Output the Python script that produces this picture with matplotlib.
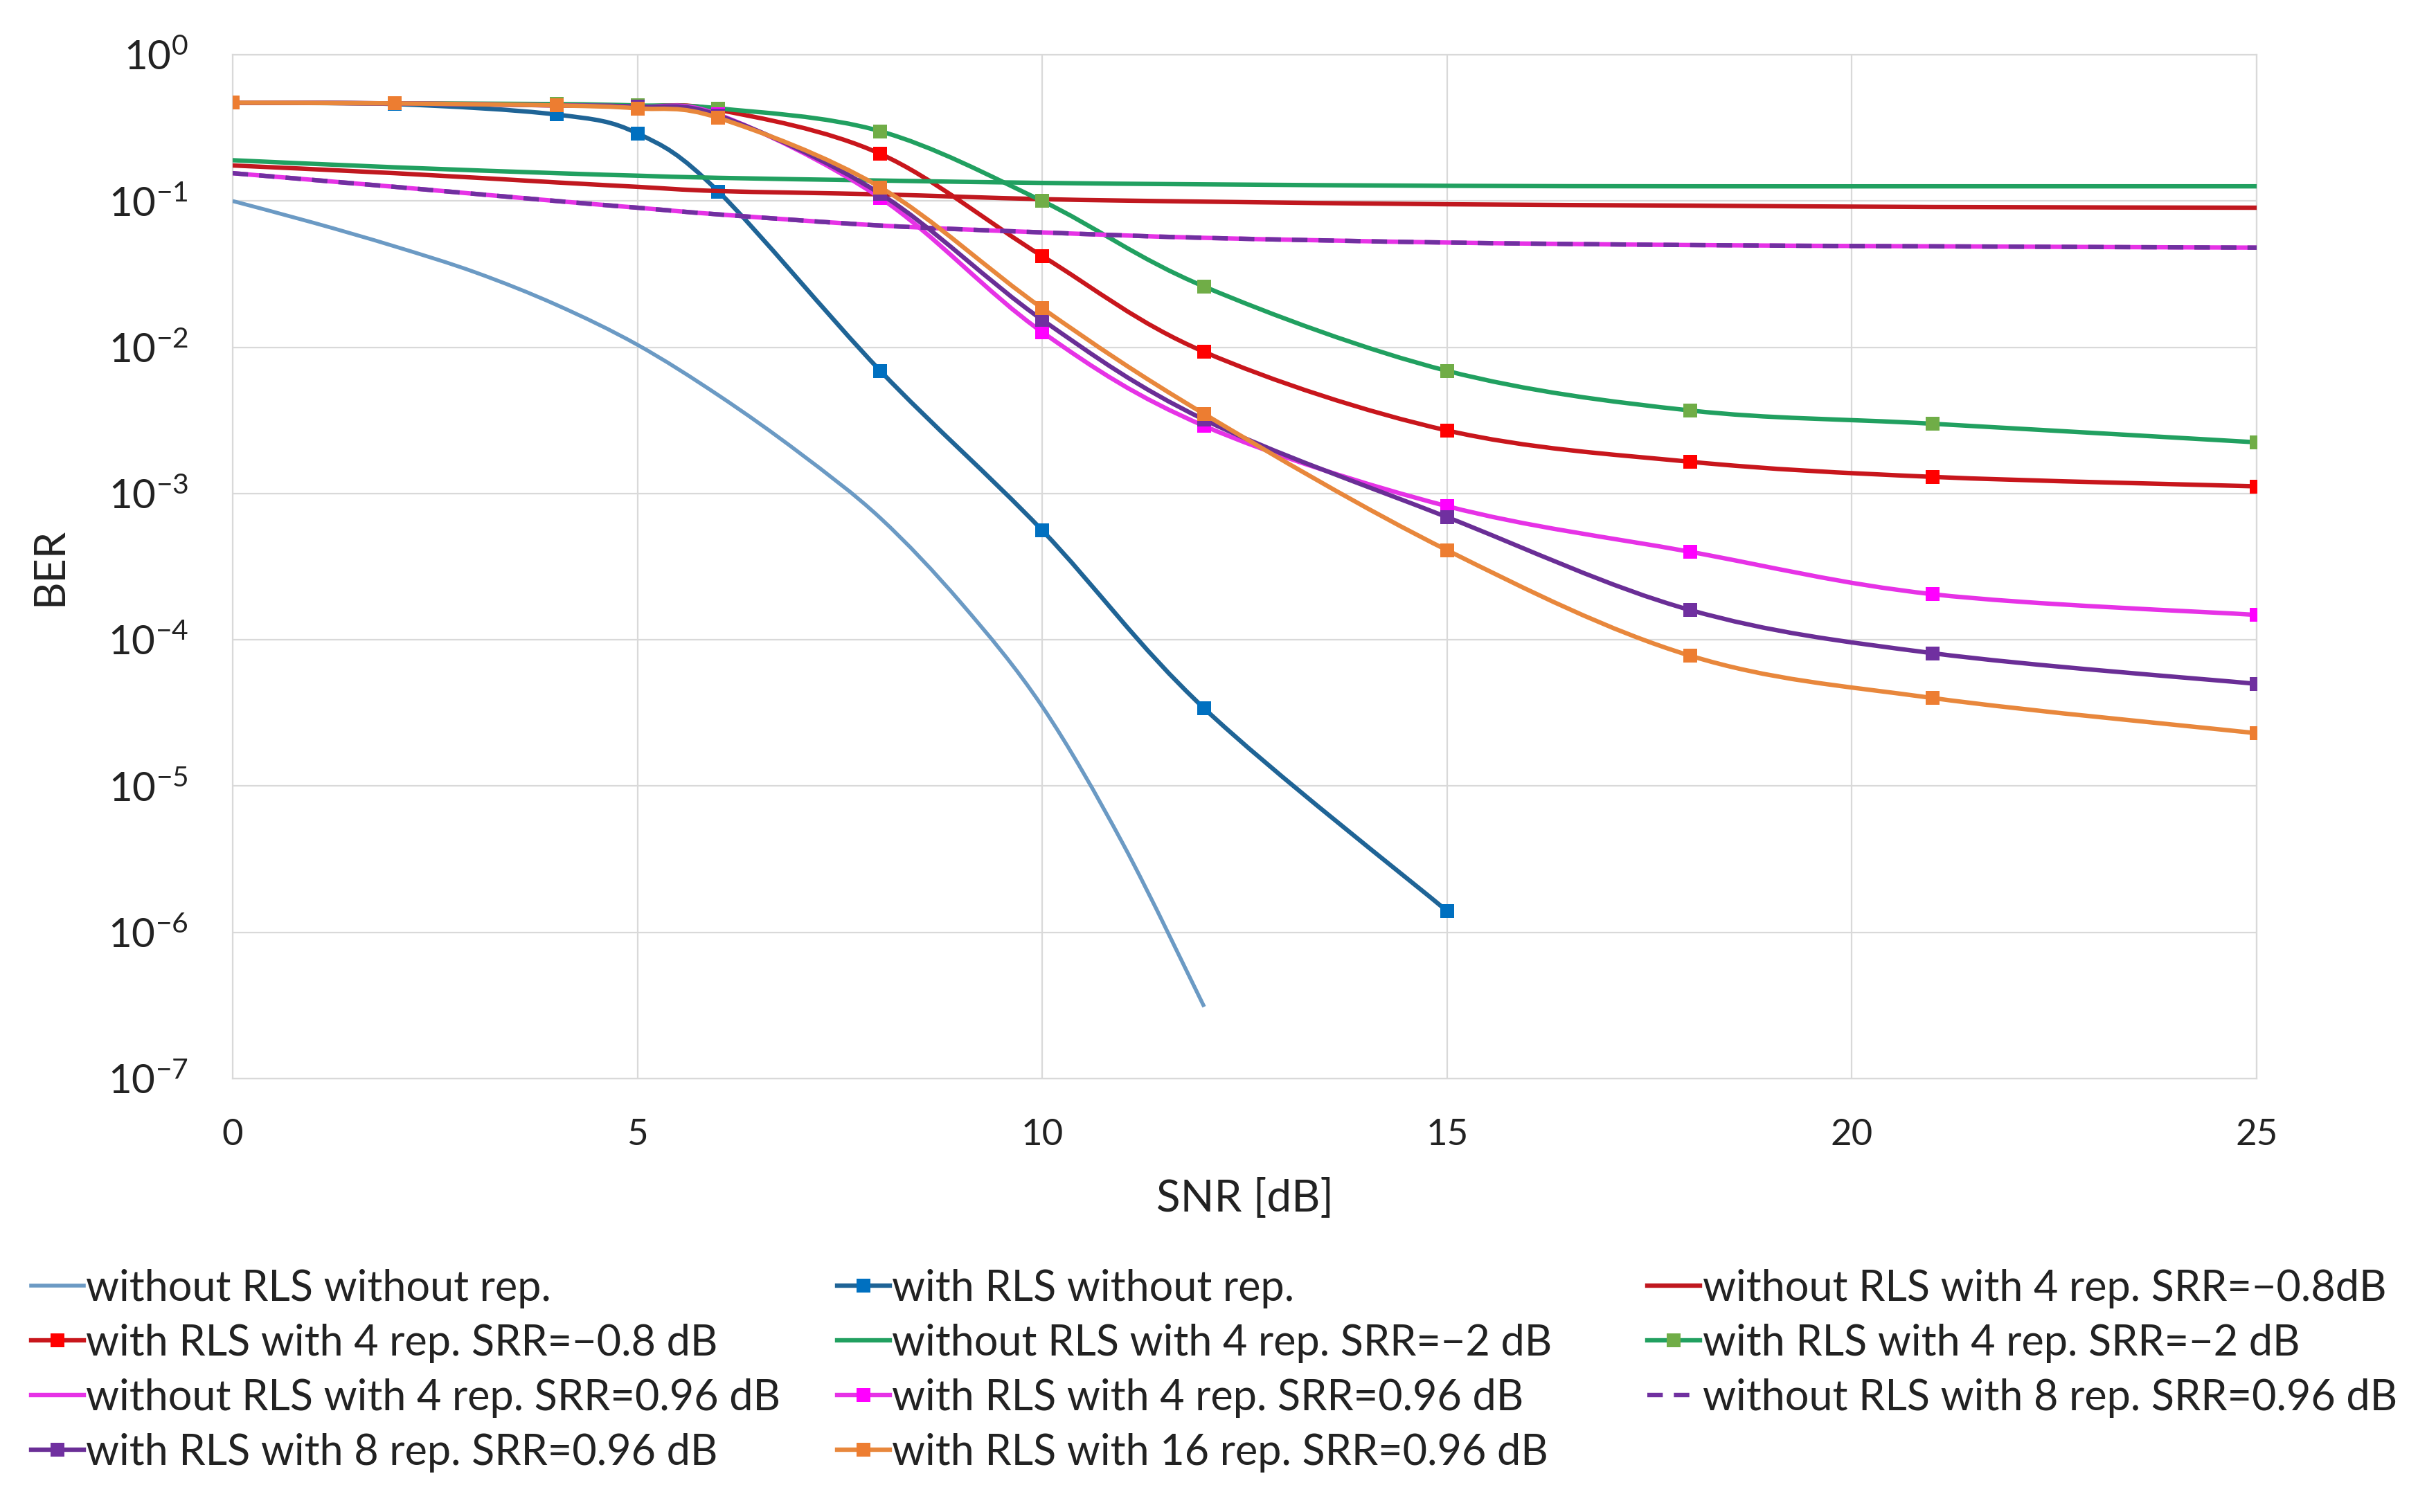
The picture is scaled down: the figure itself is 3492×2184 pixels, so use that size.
import numpy as np
import matplotlib
matplotlib.use("Agg")
import matplotlib.pyplot as plt
from matplotlib.path import Path
from matplotlib.patches import PathPatch
from matplotlib.lines import Line2D

plt.rcParams['font.family'] = ['Lato', 'DejaVu Sans']
plt.rcParams['mathtext.fontset'] = 'custom'
plt.rcParams['mathtext.rm'] = 'Lato'
plt.rcParams['mathtext.it'] = 'Lato:italic'
plt.rcParams['mathtext.bf'] = 'Lato:bold'

# data
snr = [0, 2, 4, 5, 6, 8, 10, 12, 15, 18, 21, 25]
snr_norls_norep = [0, 1, 2, 3, 4, 5, 6, 7, 8, 9, 10, 11, 12]
snr_rls_norep = [0, 2, 4, 5, 6, 8, 10, 12, 15]

ber_norls_norep = [0.1, 0.071, 0.049, 0.0325, 0.0195, 0.0104, 0.0047, 0.0019,
                   6.8e-4, 1.78e-4, 3.5e-5, 4.0e-6, 3.1e-7]
ber_rls_norep = [0.47, 0.46, 0.39, 0.29, 0.116, 6.9e-3, 5.6e-4, 3.4e-5, 1.4e-6]
ber_norls_4_m08 = [0.175, 0.155, 0.134, 0.125, 0.117, 0.111, 0.103, 0.099, 0.095, 0.093, 0.091, 0.09]
ber_rls_4_m08 = [0.47, 0.465, 0.455, 0.445, 0.42, 0.21, 0.042, 9.3e-3, 2.7e-3, 1.65e-3, 1.3e-3, 1.12e-3]
ber_norls_4_m2 = [0.19, 0.17, 0.155, 0.149, 0.144, 0.138, 0.133, 0.13, 0.127, 0.126, 0.126, 0.126]
ber_rls_4_m2 = [0.47, 0.465, 0.46, 0.45, 0.43, 0.30, 0.10, 0.026, 6.9e-3, 3.7e-3, 3.0e-3, 2.24e-3]
ber_norls_4_096 = [0.155, 0.125, 0.1, 0.09, 0.081, 0.068, 0.061, 0.056, 0.052, 0.05, 0.049, 0.048]
ber_rls_4_096 = [0.47, 0.465, 0.45, 0.44, 0.39, 0.105, 0.0127, 2.9e-3, 8.2e-4, 4.0e-4, 2.05e-4, 1.48e-4]
ber_norls_8_096 = [0.155, 0.125, 0.1, 0.09, 0.081, 0.068, 0.061, 0.056, 0.052, 0.05, 0.049, 0.048]
ber_rls_8_096 = [0.47, 0.465, 0.45, 0.44, 0.385, 0.112, 0.0154, 3.2e-3, 6.9e-4, 1.6e-4, 8.1e-5, 5.0e-5]
ber_rls_16_096 = [0.47, 0.465, 0.45, 0.43, 0.37, 0.124, 0.0185, 3.5e-3, 4.1e-4, 7.8e-5, 4.0e-5, 2.3e-5]

labels = ["without RLS without rep.",
          "with RLS without rep.",
          "without RLS with 4 rep. SRR=\u22120.8dB",
          "with RLS with 4 rep. SRR=\u22120.8 dB",
          "without RLS with 4 rep. SRR=\u22122 dB",
          "with RLS with 4 rep. SRR=\u22122 dB",
          "without RLS with 4 rep. SRR=0.96 dB",
          "with RLS with 4 rep. SRR=0.96 dB",
          "without RLS with 8 rep. SRR=0.96 dB",
          "with RLS with 8 rep. SRR=0.96 dB",
          "with RLS with 16 rep. SRR=0.96 dB"]

# (x, y, line colour, marker colour or None, linewidth, linestyle)
series = [
    (snr_norls_norep, ber_norls_norep, "#6B9AC4", None, 4.0, "-"),
    (snr_rls_norep, ber_rls_norep, "#1F6496", "#0070C0", 4.6, "-"),
    (snr, ber_norls_4_m08, "#C0181F", None, 4.6, "-"),
    (snr, ber_rls_4_m08, "#C8161C", "#FF0000", 4.6, "-"),
    (snr, ber_norls_4_m2, "#21A060", None, 4.6, "-"),
    (snr, ber_rls_4_m2, "#21A060", "#70AD47", 4.6, "-"),
    (snr, ber_norls_4_096, "#E632E6", None, 4.6, "-"),
    (snr, ber_rls_4_096, "#E632E6", "#FF00FF", 4.6, "-"),
    (snr, ber_norls_8_096, "#7030A0", None, 4.6, (0, (3.5, 2.5))),
    (snr, ber_rls_8_096, "#6A2E96", "#7030A0", 4.6, "-"),
    (snr, ber_rls_16_096, "#E8873C", "#ED7D31", 4.6, "-"),
]


def smooth_path(x, y):
    # Catmull-Rom style bezier through the points, in (x, log y) space
    px = np.asarray(x, float)
    py = np.log10(np.asarray(y, float))
    n = len(px)
    verts = [(px[0], py[0])]
    codes = [Path.MOVETO]
    for i in range(n - 1):
        i0 = max(i - 1, 0)
        i3 = min(i + 2, n - 1)
        c1 = (px[i] + (px[i + 1] - px[i0]) / 6, py[i] + (py[i + 1] - py[i0]) / 6)
        c2 = (px[i + 1] - (px[i3] - px[i]) / 6, py[i + 1] - (py[i3] - py[i]) / 6)
        verts += [c1, c2, (px[i + 1], py[i + 1])]
        codes += [Path.CURVE4] * 3
    verts = [(vx, 10 ** vy) for vx, vy in verts]
    return Path(verts, codes)


fig = plt.figure(figsize=(34.92, 21.84), dpi=100)
ax = fig.add_axes([0.0962, 0.2866, 0.9333 - 0.0962, 0.9638 - 0.2866])
ax.set_yscale('log')
ax.set_xlim(0, 25)
ax.set_ylim(1e-7, 1)

handles = []
for k, (xs, ys, lc, mc, lw, ls) in enumerate(series):
    patch = PathPatch(smooth_path(xs, ys), facecolor='none', edgecolor=lc,
                      lw=lw, linestyle=ls, zorder=3 + k, capstyle='butt',
                      joinstyle='round')
    ax.add_patch(patch)
    if mc is not None:
        ax.plot(xs, ys, linestyle='none', marker='s', markersize=14,
                color=mc, markeredgewidth=0, zorder=3 + k)
        h = Line2D([], [], color=lc, lw=lw, marker='s', markersize=14,
                   markerfacecolor=mc, markeredgewidth=0)
    else:
        h = Line2D([], [], color=lc, lw=lw, linestyle=ls)
    handles.append(h)

ax.set_xticks([0, 5, 10, 15, 20, 25])
ax.set_yticks([10.0 ** e for e in range(-7, 1)])
ax.minorticks_off()
ax.grid(True, color="#D9D9D9", lw=1.6)
for s in ax.spines.values():
    s.set_color("#D9D9D9")
    s.set_linewidth(1.6)
ax.tick_params(axis='both', length=0, colors='#222222')
ax.tick_params(axis='x', labelsize=38, pad=42)
ax.tick_params(axis='y', labelsize=42, pad=46)
ax.set_xlabel("SNR [dB]", fontsize=46, labelpad=28, color='#222222')
ax.set_ylabel("BER", fontsize=44, labelpad=40, color='#222222')

# legend in three columns, filled row by row
cols = [[0, 3, 6, 9], [1, 4, 7, 10], [2, 5, 8]]
col_x = [0.0129, 0.3462, 0.6813]
col_y = [0.0936, 0.0936, 0.1117]
for idx, cx, cy in zip(cols, col_x, col_y):
    fig.legend([handles[i] for i in idx], [labels[i] for i in idx],
               loc='center left', bbox_to_anchor=(cx, cy), frameon=False,
               fontsize=44, handlelength=1.25, handletextpad=0.05,
               labelspacing=0.36, borderpad=0, borderaxespad=0,
               labelcolor='#222222')

fig.savefig("out.png", dpi=100)
